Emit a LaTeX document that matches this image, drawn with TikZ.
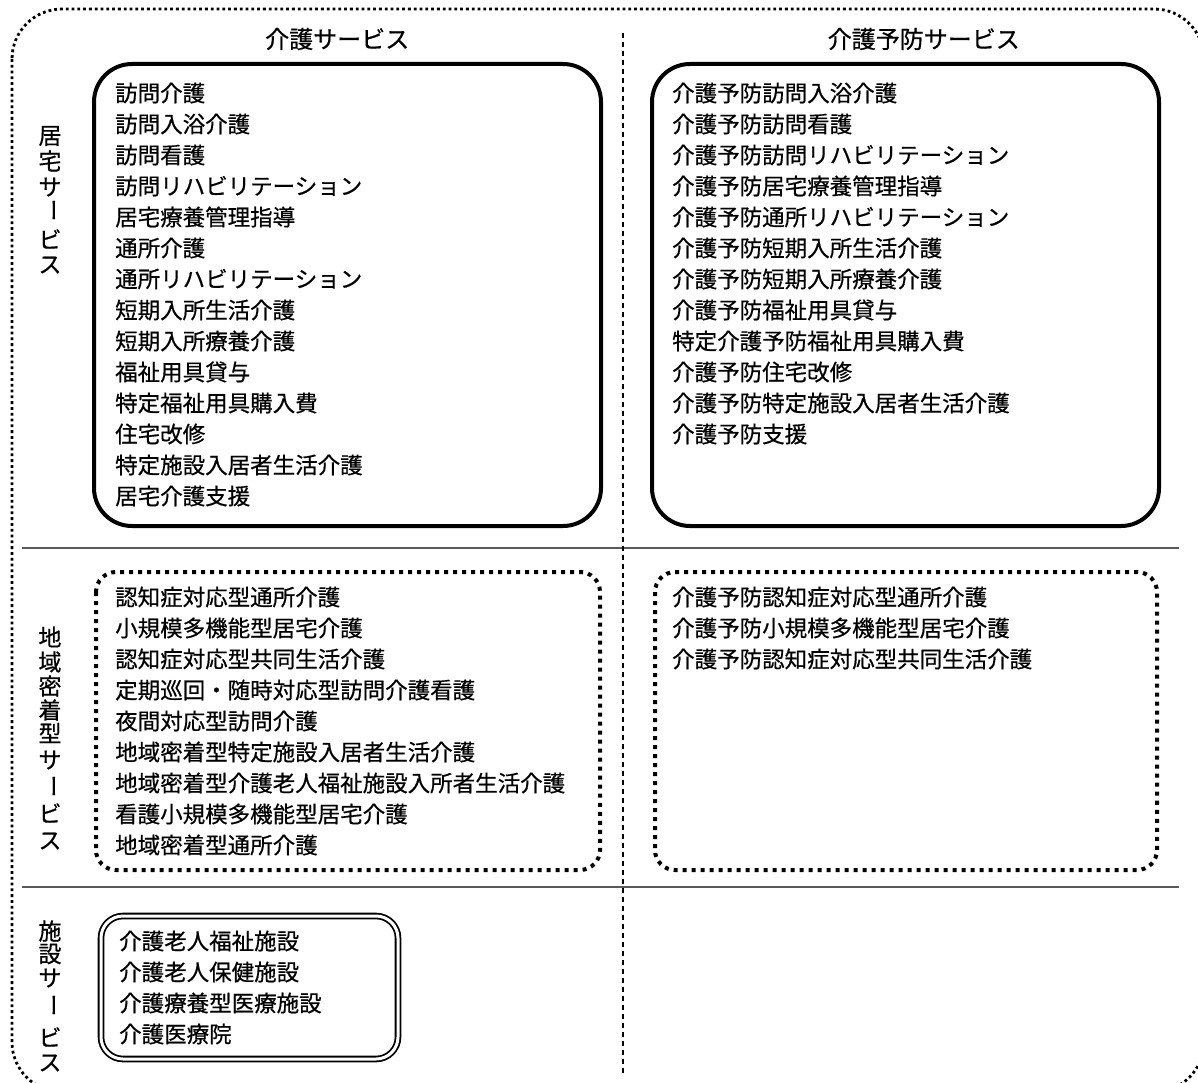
\documentclass[tikz,border=0pt]{standalone}
\usepackage{fontspec}
\setmainfont{Noto Sans CJK JP}[FakeBold=0.6]
\begin{document}
\begin{tikzpicture}[x=1pt,y=-1pt,
 item/.style={anchor=west, inner sep=0pt, font=\fontsize{22.5}{27}\selectfont},
 vchar/.style={inner sep=0pt, font=\fontsize{23}{27}\selectfont},
 head/.style={inner sep=0pt, font=\fontsize{24}{28}\selectfont},
 solidbox/.style={draw, line width=4pt, rounded corners=38pt},
 dotbox/.style={draw, line width=4pt, dash pattern=on 4pt off 5pt, rounded corners=20pt},
 dblbox/.style={draw, double, double distance=3pt, line width=1.8pt, rounded corners=22pt},
 outerbox/.style={draw, line width=2.8pt, dash pattern=on 2.8pt off 3pt, rounded corners=50pt},
 sepline/.style={draw=black!65, line width=1.5pt},
 vsepline/.style={draw, line width=1.2pt, dash pattern=on 5pt off 4pt},
]
\useasboundingbox (0,0) rectangle (1198,1083);
\clip (0,0) rectangle (1198,1083);
% outer frame
\draw[outerbox] (12,9) rectangle (1204,1092);
% separators
\coordinate (h1a) at (22,548); \coordinate (h1b) at (1179,548);
\coordinate (h2a) at (22,887); \coordinate (h2b) at (1179,887);
\coordinate (v1a) at (623,33); \coordinate (v1b) at (623,1075);
\draw[sepline] (h1a) -- (h1b);
\draw[sepline] (h2a) -- (h2b);
\draw[vsepline] (v1a) -- (v1b);
% headers
\node[head, anchor=west] (hd1) at (265,39) {介護サービス};
\node[head, anchor=east] (hd2) at (1020,39) {介護予防サービス};
% boxes
\draw[solidbox] (94,64) rectangle (601,526);
\draw[solidbox] (652,64) rectangle (1159,526);
\draw[dotbox] (96,572) rectangle (600,870);
\draw[dotbox] (655,572) rectangle (1157,870);
\draw[dblbox] (101,916) rectangle (398,1059);
% box 1 items
\foreach \t [count=\i from 0] in {訪問介護,訪問入浴介護,訪問看護,訪問リハビリテーション,居宅療養管理指導,通所介護,通所リハビリテーション,短期入所生活介護,短期入所療養介護,福祉用具貸与,特定福祉用具購入費,住宅改修,特定施設入居者生活介護,居宅介護支援}
  \node[item] (a\i) at (115,93+31*\i) {\t};
% box 2 items
\foreach \t [count=\i from 0] in {介護予防訪問入浴介護,介護予防訪問看護,介護予防訪問リハビリテーション,介護予防居宅療養管理指導,介護予防通所リハビリテーション,介護予防短期入所生活介護,介護予防短期入所療養介護,介護予防福祉用具貸与,特定介護予防福祉用具購入費,介護予防住宅改修,介護予防特定施設入居者生活介護,介護予防支援}
  \node[item] (b\i) at (672,93+31*\i) {\t};
% box 3 items
\foreach \t [count=\i from 0] in {認知症対応型通所介護,小規模多機能型居宅介護,認知症対応型共同生活介護,定期巡回・随時対応型訪問介護看護,夜間対応型訪問介護,地域密着型特定施設入居者生活介護,地域密着型介護老人福祉施設入所者生活介護,看護小規模多機能型居宅介護,地域密着型通所介護}
  \node[item] (c\i) at (115,597+31*\i) {\t};
% box 4 items
\foreach \t [count=\i from 0] in {介護予防認知症対応型通所介護,介護予防小規模多機能型居宅介護,介護予防認知症対応型共同生活介護}
  \node[item] (d\i) at (672,597+31*\i) {\t};
% box 5 items
\foreach \t [count=\i from 0] in {介護老人福祉施設,介護老人保健施設,介護療養型医療施設,介護医療院}
  \node[item] (e\i) at (119,941+31*\i) {\t};
% vertical labels
\foreach \c/\y [count=\i] in {居/136,宅/161,サ/187,ビ/239,ス/265}
  \node[vchar] (va\i) at (50,\y) {\c};
\node[vchar, rotate=-90] (vabar) at (50,210) {ー};
\foreach \c/\y [count=\i] in {地/637,域/662,密/686,着/710,型/733,サ/760,ビ/813,ス/841}
  \node[vchar] (vb\i) at (50,\y) {\c};
\node[vchar, rotate=-90] (vbbar) at (50,786) {ー};
\foreach \c/\y [count=\i] in {施/931,設/954,サ/978,ビ/1037,ス/1063}
  \node[vchar] (vc\i) at (50,\y) {\c};
\node[vchar, rotate=-90] (vcbar) at (50,1005) {ー};
\end{tikzpicture}
\end{document}
